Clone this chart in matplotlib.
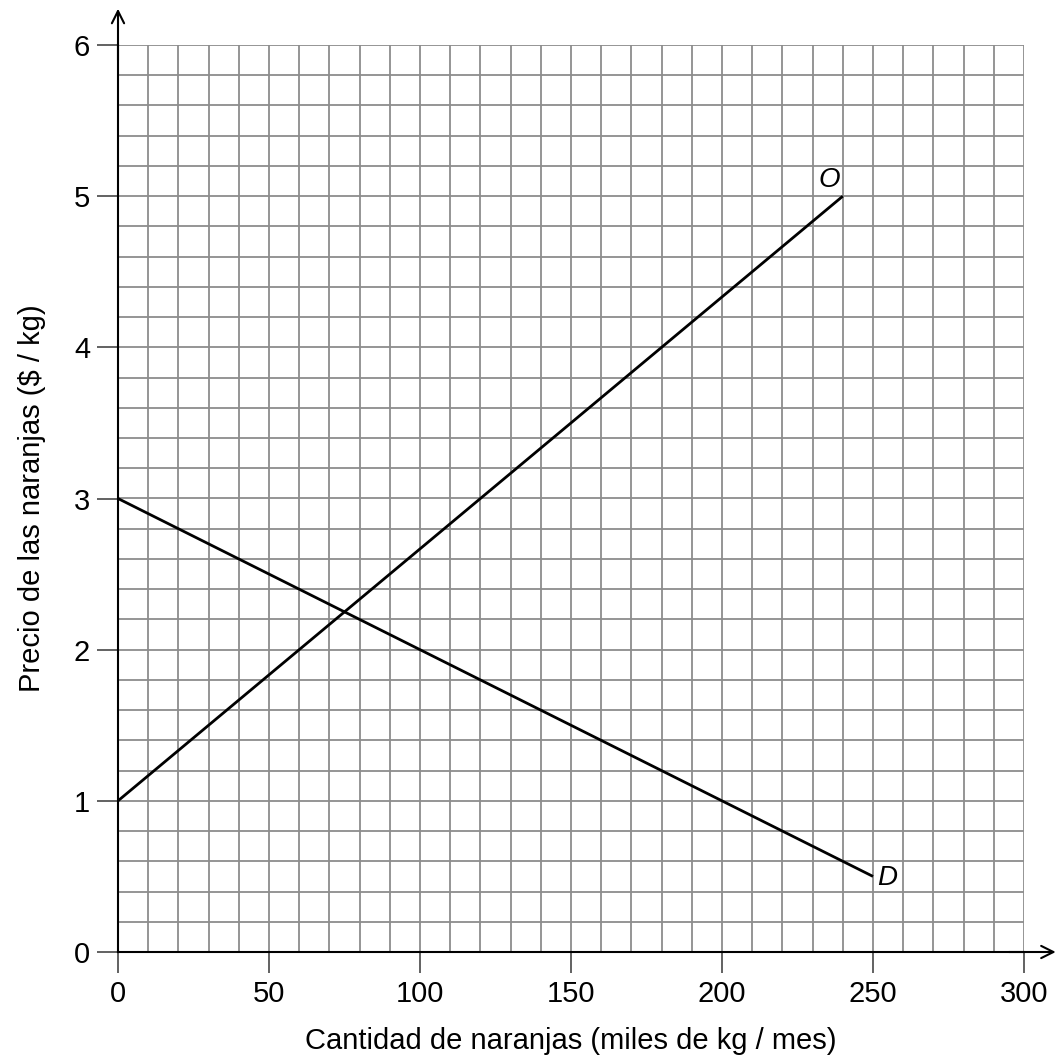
import matplotlib
matplotlib.use("Agg")
import matplotlib.pyplot as plt
import numpy as np

plt.rcParams['font.family'] = ['Liberation Sans', 'DejaVu Sans']

# Data
supply_x = [0, 240]
supply_y = [1, 5]
demand_x = [0, 250]
demand_y = [3, 0.5]
x_ticks = [0, 50, 100, 150, 200, 250, 300]
y_ticks = [0, 1, 2, 3, 4, 5, 6]
x_label = "Cantidad de naranjas (miles de kg / mes)"
y_label = "Precio de las naranjas ($ / kg)"

fig = plt.figure(figsize=(10.6, 10.6), dpi=100)
ax = fig.add_axes([118/1060, 108/1060, (1024-118)/1060, (952-45)/1060])
ax.set_xlim(0, 300)
ax.set_ylim(0, 6)

# grid
for xv in np.arange(10, 301, 10):
    ax.axvline(xv, color='#8c8c8c', lw=1.3, zorder=1)
for yv in np.arange(0.2, 6.01, 0.2):
    ax.axhline(yv, color='#8c8c8c', lw=1.3, zorder=1)

ax.plot(supply_x, supply_y, color='black', lw=2, zorder=3, solid_capstyle='butt')
ax.plot(demand_x, demand_y, color='black', lw=2, zorder=3, solid_capstyle='butt')
ax.text(supply_x[-1] - 1, supply_y[-1] + 0.02, "O", fontsize=20, style='italic', ha='right', va='bottom')
ax.text(demand_x[-1] + 1.5, demand_y[-1] - 0.01, "D", fontsize=20, style='italic', ha='left', va='center')

for s in ['top', 'right']:
    ax.spines[s].set_visible(False)
for s in ['left', 'bottom']:
    ax.spines[s].set_linewidth(1.5)
    ax.spines[s].set_zorder(4)

ax.set_xticks(x_ticks)
ax.set_yticks(y_ticks)
ax.tick_params(axis='both', direction='out', length=15, width=1.3, color='#555555', labelsize=21, pad=5)
ax.set_xlabel(x_label, fontsize=21, labelpad=14)
ax.set_ylabel(y_label, fontsize=21, labelpad=20)

# axis arrows
ax.annotate('', xy=(0, 6.24), xytext=(0, 5.9), xycoords='data',
            arrowprops=dict(arrowstyle='->', lw=1.5, color='black', mutation_scale=22, shrinkA=0, shrinkB=0),
            annotation_clip=False)
ax.annotate('', xy=(310.5, 0), xytext=(295, 0), xycoords='data',
            arrowprops=dict(arrowstyle='->', lw=1.5, color='black', mutation_scale=22, shrinkA=0, shrinkB=0),
            annotation_clip=False)

fig.savefig("out.png", dpi=100)
